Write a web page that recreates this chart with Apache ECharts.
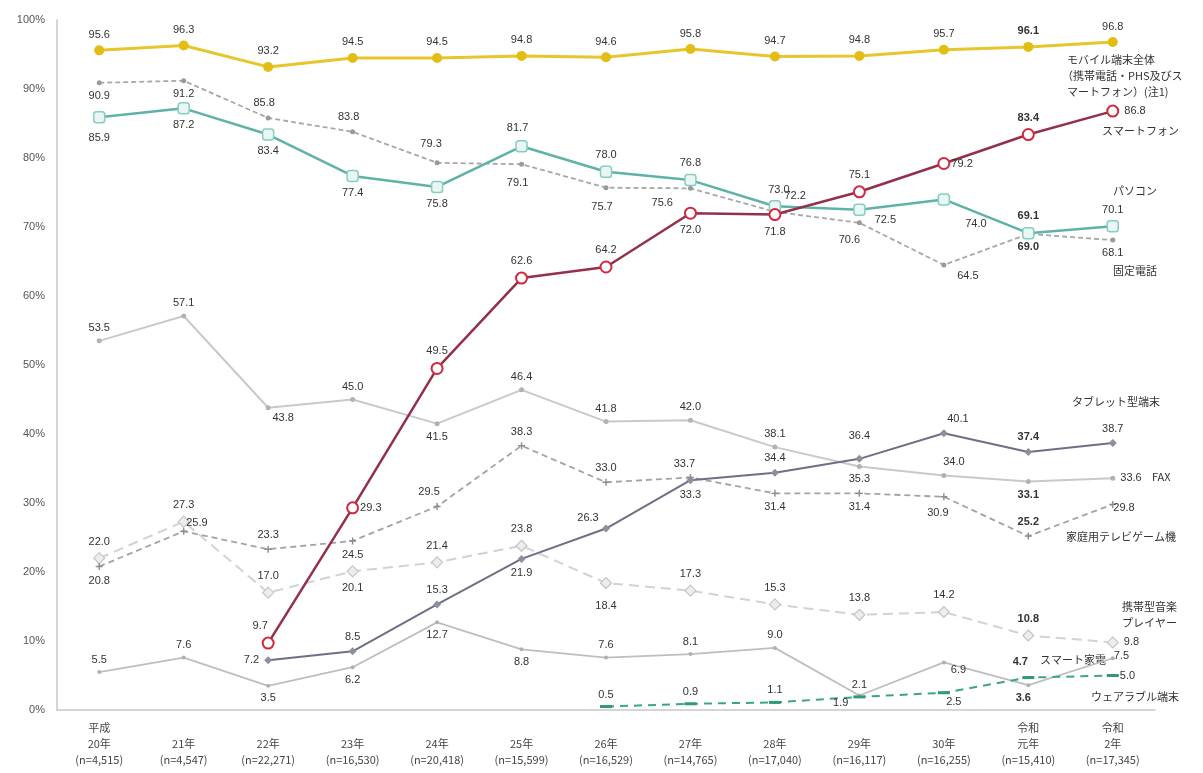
<!DOCTYPE html>
<html>
<head>
<meta charset="utf-8">
<script src="https://cdn.jsdelivr.net/npm/echarts@6/dist/echarts.min.js"></script>
<style>
  html, body { margin: 0; padding: 0; background: #fff; }
  #chart { width: 1203px; height: 773px; }
</style>
</head>
<body>
<div id="chart"></div>
<script>
// Survey years (with sample sizes)
const categories = [
  '平成\n20年\n(n=4,515)', '\n21年\n(n=4,547)', '\n22年\n(n=22,271)', '\n23年\n(n=16,530)',
  '\n24年\n(n=20,418)', '\n25年\n(n=15,599)', '\n26年\n(n=16,529)', '\n27年\n(n=14,765)',
  '\n28年\n(n=17,040)', '\n29年\n(n=16,117)', '\n30年\n(n=16,255)', '令和\n元年\n(n=15,410)',
  '令和\n2年\n(n=17,345)'
];
const yTicks = { min: 0, max: 100, step: 10 };

// Household ownership rate (%) per device
const mobileAll      = [95.6, 96.3, 93.2, 94.5, 94.5, 94.8, 94.6, 95.8, 94.7, 94.8, 95.7, 96.1, 96.8];
const smartphone     = [null, null, 9.7, 29.3, 49.5, 62.6, 64.2, 72.0, 71.8, 75.1, 79.2, 83.4, 86.8];
const pc             = [85.9, 87.2, 83.4, 77.4, 75.8, 81.7, 78.0, 76.8, 73.0, 72.5, 74.0, 69.1, 70.1];
const fixedPhone     = [90.9, 91.2, 85.8, 83.8, 79.3, 79.1, 75.7, 75.6, 72.2, 70.6, 64.5, 69.0, 68.1];
const fax            = [53.5, 57.1, 43.8, 45.0, 41.5, 46.4, 41.8, 42.0, 38.1, 35.3, 34.0, 33.1, 33.6];
const tablet         = [null, null, 7.2, 8.5, 15.3, 21.9, 26.3, 33.3, 34.4, 36.4, 40.1, 37.4, 38.7];
const gameConsole    = [20.8, 25.9, 23.3, 24.5, 29.5, 38.3, 33.0, 33.7, 31.4, 31.4, 30.9, 25.2, 29.8];
const musicPlayer    = [22.0, 27.3, 17.0, 20.1, 21.4, 23.8, 18.4, 17.3, 15.3, 13.8, 14.2, 10.8, 9.8];
const smartAppliance = [5.5, 7.6, 3.5, 6.2, 12.7, 8.8, 7.6, 8.1, 9.0, 2.1, 6.9, 3.6, 7.5];
const wearable       = [null, null, null, null, null, null, 0.5, 0.9, 1.1, 1.9, 2.5, 4.7, 5.0];

// Value-label placement per point: t=top, b=bottom, l=left, r=right, plus small nudges
const POS = { t: 'top', b: 'bottom', l: 'left', r: 'right' };
const BOLD_INDEX = 11;
const layout = {
  mobile:    { p: 'ttttttttttttt', n: {} },
  smart:     { p: '--trtttbbtrtr', n: { 2: [-8, 0], 3: [-4, 0], 10: [-4, 0] } },
  pc:        { p: 'bbbbbttttrbtt', n: { 0: [0, 4], 5: [-4, -2], 8: [4, 0], 9: [4, 10], 10: [32, 8] } },
  fixed:     { p: 'bbtttbblrbbbb', n: { 2: [-4, -2], 3: [-4, -2], 4: [-6, -6], 5: [-4, 6], 6: [-4, 6], 7: [-10, 15], 8: [2, -16], 9: [-10, 4], 10: [24, -2] } },
  fax:       { p: 'ttbtbttttbtbr', n: { 2: [15, -3], 10: [10, 0] } },
  tablet:    { p: '--lttbtbttttt', n: { 6: [-18, 4], 9: [0, -8], 10: [14, 0] } },
  game:      { p: 'brtbttttbbbtr', n: { 1: [-6, -8], 4: [-8, 0], 7: [-6, 0], 10: [-6, 2], 12: [-8, 4] } },
  music:     { p: 'tttbttbtttttr', n: { 6: [0, 6] } },
  appliance: { p: 'ttbbbbttttrbr', n: { 9: [0, 2], 10: [0, 8], 11: [-5, 0], 12: [-6, -2] } },
  wearable:  { p: '------tttlbtr', n: { 9: [0, 6], 10: [10, -3], 11: [-8, -4], 12: [-4, 0] } }
};

function points(values, spec) {
  return values.map(function (v, i) {
    if (v === null) return '-';
    const item = { value: v, label: { position: POS[spec.p[i]] || 'top' } };
    if (spec.n[i]) item.label.offset = spec.n[i];
    if (i === BOLD_INDEX) item.label.fontWeight = 'bold';
    return item;
  });
}

const LABEL_FONT = 'Liberation Sans, Arial, sans-serif';
const JP_FONT = 'Noto Sans CJK JP, sans-serif';

function line(name, values, spec, style) {
  return {
    name: name,
    type: 'line',
    data: points(values, spec),
    z: style.z || 2,
    symbol: style.symbol,
    symbolSize: style.symbolSize,
    showAllSymbol: true,
    connectNulls: false,
    lineStyle: { color: style.color, width: style.width, type: style.dash || 'solid' },
    itemStyle: style.item,
    emphasis: { disabled: true },
    animation: false,
    label: {
      show: true,
      distance: style.distance || 5,
      fontSize: 11,
      color: '#333',
      fontFamily: LABEL_FONT,
      formatter: function (p) { return Number(p.value).toFixed(1); }
    }
  };
}

const plus = 'path://M4,0H6V4H10V6H6V10H4V6H0V4H4Z';

const series = [
  line('携帯型音楽プレイヤー', musicPlayer, layout.music, {
    color: '#D2D2D2', width: 2, dash: [10, 6], symbol: 'diamond', symbolSize: 11,
    item: { color: '#EDEDED', borderColor: '#C6C6C6', borderWidth: 1.2 }
  }),
  line('スマート家電', smartAppliance, layout.appliance, {
    color: '#BEBEBE', width: 1.8, symbol: 'circle', symbolSize: 4,
    item: { color: '#B0B0B0' }
  }),
  line('ウェアラブル端末', wearable, layout.wearable, {
    color: '#3AA784', width: 2, dash: [8, 6], symbol: 'rect', symbolSize: [12, 3],
    item: { color: '#2E9A78' }
  }),
  line('家庭用テレビゲーム機', gameConsole, layout.game, {
    color: '#A3A3A3', width: 1.8, dash: [6, 4], symbol: plus, symbolSize: 7,
    item: { color: '#8C8C8C' }
  }),
  line('FAX', fax, layout.fax, {
    color: '#C9C9C9', width: 2, symbol: 'circle', symbolSize: 5,
    item: { color: '#B2B2B2' }
  }),
  line('タブレット型端末', tablet, layout.tablet, {
    color: '#6C7083', width: 2, symbol: 'diamond', symbolSize: 8,
    item: { color: '#8C8FA0' }, z: 3
  }),
  line('固定電話', fixedPhone, layout.fixed, {
    color: '#A8A8A8', width: 1.8, dash: [5, 3], symbol: 'circle', symbolSize: 5,
    item: { color: '#9A9A9A' }
  }),
  line('パソコン', pc, layout.pc, {
    color: '#5FB2A8', width: 2.5, symbol: 'roundRect', symbolSize: 11,
    item: { color: '#E8F6F4', borderColor: '#8ACBC3', borderWidth: 1.5 }, z: 3
  }),
  line('スマートフォン', smartphone, layout.smart, {
    color: '#94304A', width: 2.5, symbol: 'circle', symbolSize: 11,
    item: { color: '#FFFFFF', borderColor: '#D2283F', borderWidth: 2 }, z: 4
  }),
  line('モバイル端末全体', mobileAll, layout.mobile, {
    color: '#E6C62A', width: 3, symbol: 'circle', symbolSize: 10,
    item: { color: '#E2BE14' }, z: 4
  })
];

// Series names written beside the right end of each line
const nameText = [
  { t: 'モバイル端末全体', x: 1067, y: 60 },
  { t: '（携帯電話・PHS及びス', x: 1062, y: 76 },
  { t: 'マートフォン）(注1)', x: 1067, y: 92 },
  { t: 'スマートフォン', x: 1102, y: 131 },
  { t: 'パソコン', x: 1113, y: 191 },
  { t: '固定電話', x: 1113, y: 271 },
  { t: 'タブレット型端末', x: 1072, y: 402 },
  { t: 'FAX', x: 1152, y: 477 },
  { t: '家庭用テレビゲーム機', x: 1066, y: 537 },
  { t: '携帯型音楽', x: 1122, y: 607 },
  { t: 'プレイヤー', x: 1122, y: 623 },
  { t: 'スマート家電', x: 1040, y: 660 },
  { t: 'ウェアラブル端末', x: 1091, y: 697 }
];

const chart = echarts.init(document.getElementById('chart'), null, { renderer: 'canvas' });
chart.setOption({
  backgroundColor: '#ffffff',
  animation: false,
  grid: { left: 57, right: 48, top: 20, bottom: 63, containLabel: false },
  xAxis: {
    type: 'category',
    data: categories,
    boundaryGap: true,
    axisTick: { show: false },
    axisLine: { show: true, lineStyle: { color: '#C8C8C8', width: 1.5 } },
    axisLabel: {
      interval: 0, fontSize: 11, lineHeight: 16, color: '#444',
      margin: 10, fontFamily: JP_FONT
    }
  },
  yAxis: {
    type: 'value',
    min: yTicks.min, max: yTicks.max, interval: yTicks.step,
    axisLine: { show: true, lineStyle: { color: '#C8C8C8', width: 1.5 } },
    axisTick: { show: false },
    splitLine: { show: false },
    axisLabel: { formatter: '{value}%', fontSize: 11, color: '#555', margin: 12, fontFamily: LABEL_FONT }
  },
  series: series,
  graphic: nameText.map(function (d) {
    return {
      type: 'text', x: d.x, y: d.y, silent: true,
      style: { text: d.t, fill: '#333', font: '11px ' + JP_FONT, textVerticalAlign: 'middle' }
    };
  })
});
</script>
</body>
</html>
